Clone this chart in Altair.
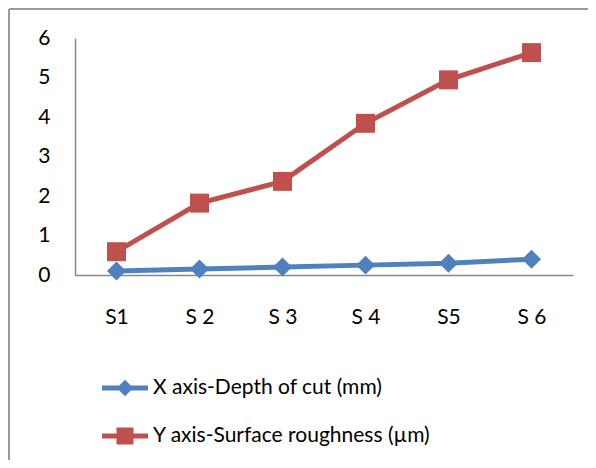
import altair as alt
import pandas as pd

categories = ["S1", "S 2", "S 3", "S 4", "S5", "S 6"]
series_names = ["X axis-Depth of cut (mm)", "Y axis-Surface roughness (µm)"]
depth_of_cut = [0.1, 0.15, 0.2, 0.25, 0.3, 0.4]
roughness = [0.59, 1.82, 2.37, 3.84, 4.94, 5.63]
y_ticks = [0, 1, 2, 3, 4, 5, 6]
colors = ["#4F81BD", "#C0504D"]

rows = []
for c, v in zip(categories, depth_of_cut):
    rows.append({"cat": c, "series": series_names[0], "value": v})
for c, v in zip(categories, roughness):
    rows.append({"cat": c, "series": series_names[1], "value": v})
df = pd.DataFrame(rows)

FONT = "Lato"
FS = 21

x_enc = alt.X("cat:N", sort=categories,
              scale=alt.Scale(type="point", padding=0.5),
              axis=alt.Axis(title=None, labelAngle=0, ticks=False, labelFontSize=FS,
                            labelFont=FONT, labelColor="#000", labelPadding=31,
                            domainColor="#888", domainWidth=1.5))
y_enc = alt.Y("value:Q", scale=alt.Scale(domain=[0, 6], nice=False),
              axis=alt.Axis(title=None, values=y_ticks, ticks=False, grid=False,
                            labelFontSize=FS, labelFont=FONT, labelColor="#000",
                            labelPadding=25, domainColor="#888", domainWidth=1.5))
color_scale = alt.Scale(domain=series_names, range=colors)

legend_paths = [
    "M-1,-0.11H1V0.11H-1Z M0,-0.36L0.36,0L0,0.36L-0.36,0Z",
    "M-1,-0.11H1V0.11H-1Z M-0.37,-0.37H0.37V0.37H-0.37Z",
]

lines = alt.Chart(df).mark_line(strokeWidth=5).encode(
    x=x_enc, y=y_enc,
    color=alt.Color("series:N", scale=color_scale, legend=None),
)
points = alt.Chart(df).mark_point(filled=True, opacity=1, size=360).encode(
    x=x_enc, y=y_enc,
    color=alt.Color("series:N", scale=color_scale, legend=None),
    shape=alt.Shape("series:N", scale=alt.Scale(domain=series_names, range=["diamond", "square"]), legend=None),
)

legend_layers = []
for i, name in enumerate(series_names):
    lg = alt.Legend(
        title=None, orient="none", legendX=27, legendY=327 + 48 * i,
        labelFontSize=FS, labelFont=FONT, labelColor="#000", labelOffset=5,
        symbolSize=2116, symbolStrokeWidth=0, symbolOpacity=1, labelLimit=400,
        symbolFillColor=colors[i],
    )
    legend_layers.append(
        alt.Chart(df).transform_filter("false").mark_point(
            filled=True, size=2116, color=colors[i]
        ).encode(
            x=x_enc, y=y_enc,
            shape=alt.Shape("series:N", scale=alt.Scale(domain=[name], range=[legend_paths[i]]), legend=lg),
        )
    )

frame_left = alt.Chart(df).mark_rule(color="#999", strokeWidth=2).encode(
    x=alt.value(-66), y=alt.value(-29), y2=alt.value(500))
frame_top = alt.Chart(df).mark_rule(color="#999", strokeWidth=2).encode(
    x=alt.value(-66), x2=alt.value(600), y=alt.value(-29))

chart = alt.layer(lines, points, *legend_layers, frame_left, frame_top).resolve_scale(
    shape="independent"
).properties(
    width=498, height=237,
    autosize=alt.AutoSizeParams(type="none"),
    padding={"left": 67, "top": 30, "right": 15, "bottom": 185},
).configure_view(stroke=None)

chart.save("out.html", embed_options={"renderer": "svg", "actions": False})
